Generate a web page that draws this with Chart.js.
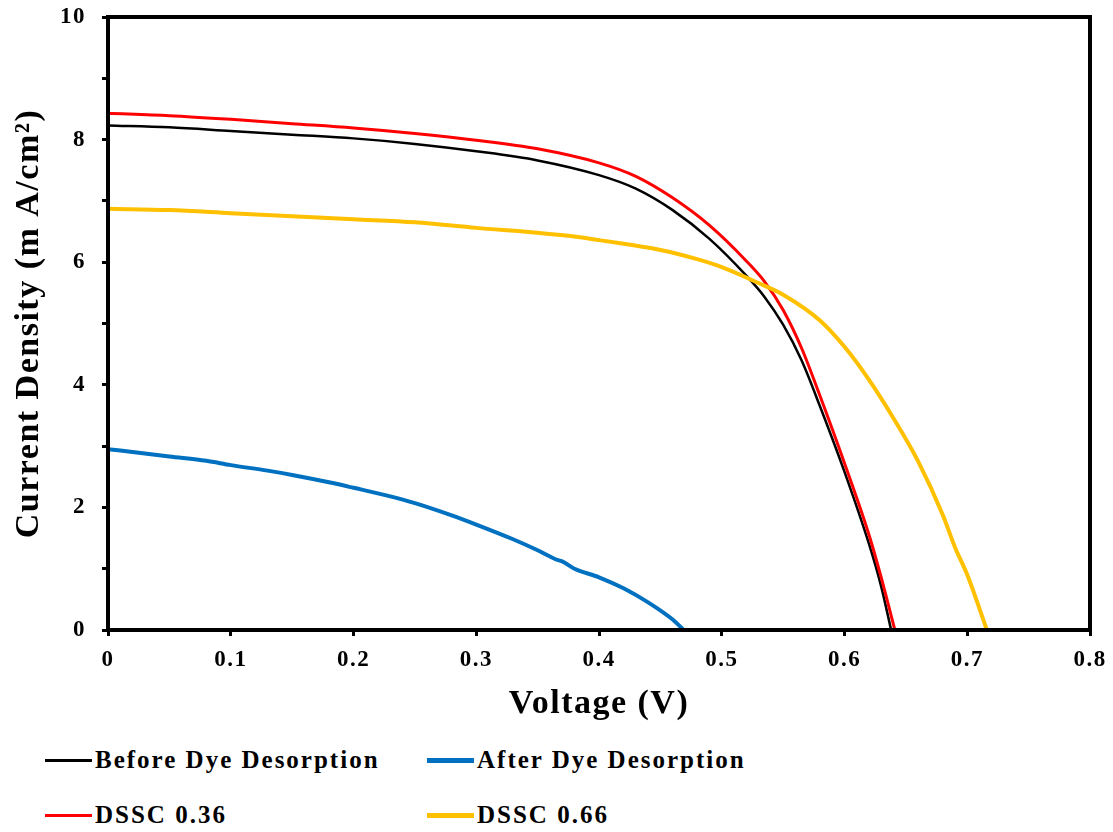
<!DOCTYPE html>
<html>
<head>
<meta charset="utf-8">
<script src="https://cdn.jsdelivr.net/npm/chart.js@4.4.1/dist/chart.umd.min.js"></script>
<style>
  html, body { margin: 0; padding: 0; background: #fff; }
  #wrap { position: relative; width: 1113px; height: 832px; }
  #cv { position: absolute; left: 0; top: 0; }
  #legend { position: absolute; left: 45px; top: 746px; width: 800px;
    font-family: "Liberation Serif", "Times New Roman", serif; font-weight: bold; font-size: 25px; letter-spacing: 2px; color: #000; }
  .item { position: absolute; display: flex; align-items: center; white-space: nowrap; }
  .swatch { width: 47px; height: 4px; margin-right: 3px; }
</style>
</head>
<body>
<div id="wrap">
  <canvas id="cv" width="1113" height="740"></canvas>
  <div id="legend"></div>
</div>
<script>
// Voltage (V) and current density (mA/cm^2)
const beforeV = [0, 0.05, 0.1, 0.15, 0.2, 0.25, 0.3, 0.35, 0.4, 0.43, 0.46, 0.49, 0.52, 0.535, 0.55, 0.565, 0.58, 0.6, 0.62, 0.63, 0.638];
const beforeJ = [8.23, 8.2, 8.14, 8.08, 8.02, 7.93, 7.81, 7.66, 7.42, 7.2, 6.85, 6.38, 5.78, 5.43, 4.98, 4.4, 3.65, 2.58, 1.4, 0.7, 0];

const afterV = [0, 0.03, 0.05, 0.08, 0.1, 0.13, 0.15, 0.18, 0.2, 0.23, 0.25, 0.28, 0.3, 0.33, 0.35, 0.365, 0.37, 0.38, 0.4, 0.42, 0.44, 0.46, 0.469];
const afterJ = [2.95, 2.88, 2.83, 2.76, 2.69, 2.6, 2.53, 2.41, 2.32, 2.18, 2.07, 1.87, 1.72, 1.48, 1.3, 1.15, 1.12, 1.0, 0.86, 0.68, 0.45, 0.17, 0];

const dssc036V = [0, 0.05, 0.1, 0.15, 0.2, 0.25, 0.3, 0.35, 0.4, 0.43, 0.46, 0.49, 0.52, 0.535, 0.55, 0.565, 0.58, 0.6, 0.62, 0.63, 0.641];
const dssc036J = [8.43, 8.39, 8.33, 8.26, 8.19, 8.1, 7.99, 7.85, 7.62, 7.4, 7.05, 6.6, 6.02, 5.68, 5.22, 4.6, 3.82, 2.72, 1.55, 0.85, 0];

const dssc066V = [0, 0.05, 0.1, 0.15, 0.2, 0.25, 0.3, 0.35, 0.38, 0.4, 0.45, 0.48, 0.5, 0.53, 0.55, 0.58, 0.6, 0.62, 0.64, 0.66, 0.68, 0.69, 0.7, 0.716];
const dssc066J = [6.87, 6.85, 6.8, 6.75, 6.7, 6.65, 6.56, 6.48, 6.42, 6.36, 6.2, 6.05, 5.92, 5.66, 5.47, 5.05, 4.62, 4.08, 3.45, 2.75, 1.88, 1.35, 0.9, 0];

const seriesNames = ["Before Dye Desorption", "After Dye Desorption", "DSSC 0.36", "DSSC 0.66"];
const seriesColors = ["#000000", "#0070C0", "#FF0000", "#FFC000"];
const seriesWidths = [2.5, 4, 3, 4];
const xTicks = [0, 0.1, 0.2, 0.3, 0.4, 0.5, 0.6, 0.7, 0.8];

function pts(xs, ys) { return xs.map((x, i) => ({ x: x, y: ys[i] })); }
const allData = [pts(beforeV, beforeJ), pts(afterV, afterJ), pts(dssc036V, dssc036J), pts(dssc066V, dssc066J)];
const drawOrder = [4, 1, 3, 2];

const serif = "'Liberation Serif', 'Times New Roman', serif";

const spacing = {
  id: 'spacing',
  beforeInit(chart) { chart.ctx.letterSpacing = '1.5px'; },
  beforeUpdate(chart) { chart.ctx.letterSpacing = '1.5px'; },
  beforeLayout(chart) { chart.ctx.letterSpacing = '1.5px'; },
  beforeDraw(chart) { chart.ctx.letterSpacing = '1.5px'; }
};

const frame = {
  id: 'frame',
  afterDraw(chart) {
    const a = chart.chartArea, c = chart.ctx;
    c.save();
    c.strokeStyle = '#000';
    c.lineWidth = 4;
    c.strokeRect(a.left, a.top, a.right - a.left, a.bottom - a.top);
    c.restore();
  }
};

new Chart(document.getElementById('cv'), {
  type: 'scatter',
  data: {
    datasets: allData.map((d, i) => ({
      label: seriesNames[i],
      data: d,
      showLine: true,
      borderColor: seriesColors[i],
      backgroundColor: seriesColors[i],
      borderWidth: seriesWidths[i],
      pointRadius: 0,
      cubicInterpolationMode: 'monotone',
      order: drawOrder[i]
    }))
  },
  options: {
    responsive: false,
    animation: false,
    layout: { padding: { left: 6, top: 17, right: 23, bottom: 0 } },
    plugins: { legend: { display: false }, tooltip: { enabled: false } },
    scales: {
      x: {
        type: 'linear', min: 0, max: 0.8,
        afterBuildTicks: (s) => { s.ticks = xTicks.map(v => ({ value: v })); },
        afterFit: (s) => { s.height = 110; s.paddingLeft = 0; s.paddingRight = 0; },
        grid: { display: true, drawOnChartArea: false, drawTicks: true, tickLength: 6, lineWidth: 3, color: '#000' },
        border: { display: true, width: 4, color: '#000' },
        ticks: { color: '#000', font: { family: serif, weight: 'bold', size: 23 }, padding: 10,
          callback: (v) => String(Math.round(v * 10) / 10) },
        title: { display: true, text: 'Voltage (V)', color: '#000', font: { family: serif, weight: 'bold', size: 34 }, padding: { top: 4, bottom: 15 } }
      },
      y: {
        type: 'linear', min: 0, max: 10,
        afterFit: (s) => { s.width = 102; s.paddingTop = 0; s.paddingBottom = 0; },
        ticks: { stepSize: 1, color: '#000', font: { family: serif, weight: 'bold', size: 23 }, padding: 16,
          callback: (v) => (v % 2 === 0 ? String(v) : '') },
        grid: { display: true, drawOnChartArea: false, drawTicks: true, tickLength: 6, lineWidth: 3, color: '#000' },
        border: { display: true, width: 4, color: '#000' },
        title: { display: true, text: 'Current Density (m A/cm²)', color: '#000', font: { family: serif, weight: 'bold', size: 34 }, padding: { top: 3, bottom: 4 } }
      }
    }
  },
  plugins: [spacing, frame]
});

// legend (2 x 2 grid)
const leg = document.getElementById('legend');
const pos = [[0, 0], [382, 0], [0, 55], [382, 55]];
seriesNames.forEach((n, i) => {
  const it = document.createElement('div');
  it.className = 'item';
  it.style.left = pos[i][0] + 'px';
  it.style.top = pos[i][1] + 'px';
  const sw = document.createElement('span');
  sw.className = 'swatch';
  sw.style.background = seriesColors[i];
  sw.style.height = (i === 0 || i === 2 ? 3 : 5) + 'px';
  const tx = document.createElement('span');
  tx.textContent = n;
  it.appendChild(sw); it.appendChild(tx);
  leg.appendChild(it);
});
</script>
</body>
</html>
